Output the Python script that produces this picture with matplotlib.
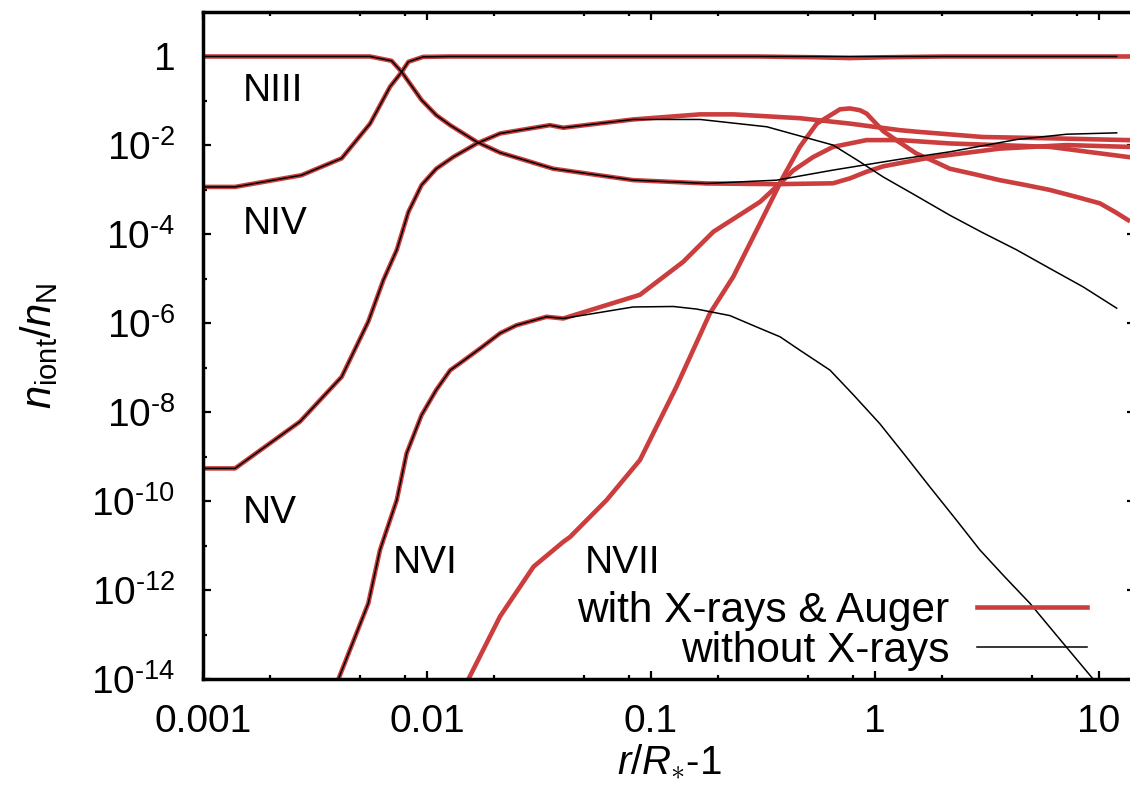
import numpy as np
import matplotlib
matplotlib.use("Agg")
import matplotlib.pyplot as plt
from matplotlib.ticker import FixedLocator, FuncFormatter, NullFormatter

plt.rcParams['font.family'] = ['Liberation Sans', 'DejaVu Sans']
plt.rcParams['mathtext.fontset'] = 'custom'
plt.rcParams['mathtext.rm'] = 'Liberation Sans'
plt.rcParams['mathtext.it'] = 'Liberation Sans:italic'
plt.rcParams['mathtext.sf'] = 'Liberation Sans'

red = '#cc3d3d'

# NIII : common inner part, then tails with / without X-rays
x_n3 = [0.001, 0.00557, 0.00695, 0.00771, 0.00946, 0.0110, 0.0127, 0.0167, 0.0212, 0.0366, 0.0834, 0.177]
y_n3 = [1.0, 1.0, 0.80, 0.45, 0.105, 0.048, 0.0285, 0.012, 0.0069, 0.0030, 0.00166, 0.0014]
x_n3_xr = [0.364, 0.649, 0.773, 0.918, 1.09, 1.29, 1.82, 3.61, 7.18, 13.5]
y_n3_xr = [0.00135, 0.00141, 0.00182, 0.00257, 0.0034, 0.0040, 0.0055, 0.0085, 0.0102, 0.0093]
x_n3_no = [0.364, 0.649, 1.29, 2.16, 4.29, 7.18, 12.0]
y_n3_no = [0.00166, 0.00279, 0.0049, 0.0072, 0.0136, 0.0179, 0.0192]

# NIV
x_n4 = [0.001, 0.00139, 0.00275, 0.00416, 0.00557, 0.00684, 0.00771, 0.00826, 0.00961, 0.0126]
y_n4 = [0.00117, 0.00117, 0.00214, 0.00513, 0.0309, 0.209, 0.45, 0.76, 0.98, 1.0]
x_n4_xr = [0.3, 0.55, 0.77, 1.1, 2.0, 13.5]
y_n4_xr = [1.0, 0.96, 0.92, 0.96, 1.0, 1.0]
x_n4_no = [12.0]
y_n4_no = [1.0]

# NV
x_n5 = [0.001, 0.00139, 0.00271, 0.00416, 0.00547, 0.00638, 0.00733, 0.00826, 0.00946, 0.0110,
        0.0131, 0.0167, 0.0212, 0.0354, 0.0406, 0.0832]
y_n5 = [5.5e-10, 5.5e-10, 6.2e-9, 6.3e-8, 1.1e-6, 9.3e-6, 4.5e-5, 3.2e-4, 1.29e-3, 3.0e-3,
        5.5e-3, 1.11e-2, 1.86e-2, 2.86e-2, 2.5e-2, 3.84e-2]
x_n5_xr = [0.166, 0.233, 0.462, 0.773, 1.29, 1.53, 3.02, 6.03, 13.5]
y_n5_xr = [5.0e-2, 5.0e-2, 4.1e-2, 3.1e-2, 2.21e-2, 2.04e-2, 1.55e-2, 1.45e-2, 1.32e-2]
x_n5_no = [0.166, 0.329, 0.47, 0.65, 0.85, 1.09, 1.5, 2.16, 3.0, 4.29, 6.0, 8.51, 12.0]
y_n5_no = [3.84e-2, 2.63e-2, 1.6e-2, 1.02e-2, 4.4e-3, 1.95e-3, 7.8e-4, 2.7e-4, 1.12e-4, 4.5e-5,
           1.75e-5, 6.6e-6, 2.2e-6]

# NVI
x_n6 = [0.00355, 0.00402, 0.00547, 0.00617, 0.00733, 0.00811, 0.00946, 0.0110, 0.0127, 0.0140,
        0.0173, 0.0212, 0.0251, 0.0342, 0.0406]
y_n6 = [2e-15, 1e-14, 5.1e-13, 8.1e-12, 1.07e-10, 1.2e-9, 8.7e-9, 3.2e-8, 8.9e-8, 1.26e-7,
        2.75e-7, 6.0e-7, 9.1e-7, 1.41e-6, 1.29e-6]
x_n6_xr = [0.0893, 0.139, 0.190, 0.307, 0.377, 0.432, 0.530, 0.650, 0.918, 1.29, 2.16, 6.03, 13.5]
y_n6_xr = [4.4e-6, 2.4e-5, 1.15e-4, 5.4e-4, 1.41e-3, 2.75e-3, 5.5e-3, 9.3e-3, 1.32e-2, 1.32e-2,
           1.11e-2, 9.3e-3, 5.5e-3]
x_n6_no = [0.0832, 0.126, 0.16, 0.225, 0.30, 0.377, 0.462, 0.63, 0.8, 1.05, 1.35, 1.76, 2.3,
           2.94, 3.8, 4.92, 6.8, 9.44, 11.2]
y_n6_no = [2.34e-6, 2.4e-6, 2.1e-6, 1.5e-6, 8.1e-7, 5.0e-7, 2.5e-7, 8.9e-8, 2.5e-8, 5.6e-9,
           1.15e-9, 2.1e-10, 3.9e-11, 8.1e-12, 2.0e-12, 5.1e-13, 7.2e-14, 1e-14, 3.2e-15]

# NVII (only with X-rays, the other run stays below 1e-14)
x_n7 = [0.0141, 0.0153, 0.0212, 0.0299, 0.0406, 0.0435, 0.0634, 0.0893, 0.130, 0.183, 0.233,
        0.307, 0.389, 0.462, 0.550, 0.650, 0.698, 0.773, 0.857, 0.918, 1.09, 1.25, 1.53, 1.8,
        2.16, 2.8, 3.61, 4.7, 6.04, 8.0, 10.1, 11.8, 13.5]
y_n7 = [4.5e-15, 1e-14, 2.6e-13, 3.4e-12, 1.23e-11, 1.58e-11, 1.07e-10, 8.5e-10, 3.8e-8, 1.66e-6,
        1.12e-5, 1.78e-4, 1.95e-3, 9.3e-3, 3.1e-2, 5.2e-2, 6.5e-2, 6.8e-2, 6.2e-2, 5.2e-2, 2.09e-2,
        1.3e-2, 6.6e-3, 4.6e-3, 3.0e-3, 2.24e-3, 1.66e-3, 1.29e-3, 1.0e-3, 6.9e-4, 5.0e-4, 3.2e-4,
        2.1e-4]

ion_names = ['NIII', 'NIV', 'NV', 'NVI', 'NVII']
ion_label_x = [0.00151, 0.00151, 0.00151, 0.00705, 0.0507]
ion_label_y = [0.1, 1.0e-4, 3.3e-11, 2.45e-12, 2.45e-12]

fig = plt.figure(figsize=(11.3, 7.99), dpi=100)
ax = fig.add_axes([203/1130, 1 - 679.3/799, (1135-203)/1130, (679.3-12)/799])

lw_red = 3.3
lw_blk = 1.1

xr_sets = [(x_n3 + x_n3_xr, y_n3 + y_n3_xr), (x_n4 + x_n4_xr, y_n4 + y_n4_xr),
           (x_n5 + x_n5_xr, y_n5 + y_n5_xr), (x_n6 + x_n6_xr, y_n6 + y_n6_xr), (x_n7, y_n7)]
no_sets = [(x_n3 + x_n3_no, y_n3 + y_n3_no), (x_n4 + x_n4_no, y_n4 + y_n4_no),
           (x_n5 + x_n5_no, y_n5 + y_n5_no), (x_n6 + x_n6_no, y_n6 + y_n6_no)]

for i, (xx, yy) in enumerate(xr_sets):
    ax.plot(xx, yy, color=red, lw=lw_red, solid_joinstyle='round', zorder=2,
            label='with X-rays & Auger' if i == 0 else None)
for i, (xx, yy) in enumerate(no_sets):
    ax.plot(xx, yy, color='black', lw=lw_blk, zorder=3,
            label='without X-rays' if i == 0 else None)

for name, tx, ty in zip(ion_names, ion_label_x, ion_label_y):
    ax.text(tx, ty, name, fontsize=28, ha='left', va='baseline')

ax.set_xscale('log')
ax.set_yscale('log')
ax.set_xlim(1e-3, 10**1.161)
ax.set_ylim(1e-14, 10)

ax.xaxis.set_major_locator(FixedLocator([1e-3, 1e-2, 1e-1, 1, 10]))
ax.xaxis.set_minor_locator(FixedLocator([m * 10.0**k for k in range(-3, 2) for m in (2, 5, 8)]))
ax.xaxis.set_major_formatter(FuncFormatter(lambda v, p: '%g' % v))
ax.xaxis.set_minor_formatter(NullFormatter())

hyph = '\u2010'
ax.yaxis.set_major_locator(FixedLocator([10.0**k for k in range(-14, 1, 2)]))
ax.yaxis.set_minor_locator(FixedLocator([10.0**k for k in range(-13, 1, 2)]))
ax.yaxis.set_major_formatter(FuncFormatter(
    lambda v, p: '1' if abs(np.log10(v)) < 0.01
    else '$10^{' + hyph + '%d}$' % abs(round(np.log10(v)))))
ax.yaxis.set_minor_formatter(NullFormatter())

ax.tick_params(which='both', direction='in', top=True, right=True, width=1.6, labelsize=28)
ax.tick_params(which='major', length=6)
ax.tick_params(which='minor', length=3)
ax.tick_params(axis='x', which='major', pad=18)
ax.tick_params(axis='y', which='major', pad=20)
for s in ax.spines.values():
    s.set_linewidth(2.5)

ax.set_xlabel(r'$r/R_{\ast}$-1', fontsize=29, labelpad=2)
ax.set_ylabel(r'$n_{\rm iont}/n_{\rm N}$', fontsize=30, labelpad=22)

ax.legend(loc='lower right', bbox_to_anchor=(0.9485, 0.012), frameon=False, fontsize=30.5,
          markerfirst=False, handlelength=2.6, handletextpad=0.65, labelspacing=0.0,
          borderpad=0, borderaxespad=0)

fig.savefig('out.png', dpi=100)
